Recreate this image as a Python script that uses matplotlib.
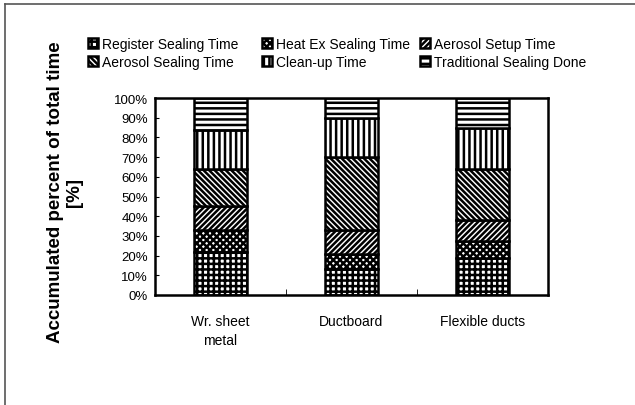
import matplotlib
matplotlib.use("Agg")
import matplotlib.pyplot as plt
from matplotlib.lines import Line2D
from matplotlib.ticker import PercentFormatter, FixedLocator

plt.rcParams['font.family'] = ['Liberation Sans', 'DejaVu Sans']
plt.rcParams['hatch.linewidth'] = 1.8

categories = ["Wr. sheet\nmetal", "Ductboard", "Flexible ducts"]

# percent of total time per phase
register_sealing = [22, 13, 19]
heat_ex_sealing = [11, 8, 8.5]
aerosol_setup = [12, 12, 10.5]
aerosol_sealing = [19, 37, 26]
clean_up = [20, 20, 21]
traditional_sealing = [16, 10, 15]

series = [
    ("Register Sealing Time", register_sealing, "+++"),
    ("Heat Ex Sealing Time", heat_ex_sealing, "xxxxx"),
    ("Aerosol Setup Time", aerosol_setup, "//////"),
    ("Aerosol Sealing Time", aerosol_sealing, "\\\\\\\\\\\\"),
    ("Clean-up Time", clean_up, "|||"),
    ("Traditional Sealing Done", traditional_sealing, "---"),
]

fig = plt.figure(figsize=(6.35, 4.06), dpi=100)
ax = fig.add_axes([0.244, 0.271, 0.619, 0.485])

x = list(range(len(categories)))
bottom = [0.0] * len(categories)
handles = {}
for name, vals, hatch in series:
    bars = ax.bar(x, vals, width=0.4, bottom=bottom, color="white",
                  edgecolor="black", hatch=hatch, linewidth=1.8, label=name)
    handles[name] = bars
    bottom = [b + v for b, v in zip(bottom, vals)]

ax.set_xlim(-0.5, 2.5)
ax.set_ylim(0, 100)
ax.yaxis.set_major_locator(FixedLocator(range(0, 101, 10)))
ax.yaxis.set_major_formatter(PercentFormatter(decimals=0))
ax.set_xticks(x)
ax.set_xticklabels(categories, fontsize=10, linespacing=1.45)
ax.set_xticks([0.5, 1.5], minor=True)
ax.tick_params(axis="x", which="major", length=0, pad=14)
ax.tick_params(axis="x", which="minor", length=4, direction="in")
ax.tick_params(axis="y", labelsize=9.5, length=3, direction="in", pad=5)
for s in ax.spines.values():
    s.set_linewidth(1.8)

# legend: three columns placed like the original
columns = [
    (88, ["Register Sealing Time", "Aerosol Sealing Time"]),
    (262, ["Heat Ex Sealing Time", "Clean-up Time"]),
    (420, ["Aerosol Setup Time", "Traditional Sealing Done"]),
]
for xpix, names in columns:
    fig.legend([handles[n] for n in names], names, loc="upper left",
               bbox_to_anchor=(xpix / 635, 1 - 38 / 406), ncol=1,
               frameon=False, fontsize=10, handlelength=0.75,
               handleheight=0.75, handletextpad=0.25, labelspacing=0.3,
               borderpad=0, borderaxespad=0)

fig.text(0.103, 0.527, "Accumulated percent of total time\n[%]", rotation=90,
         ha="center", va="center", multialignment="center",
         fontsize=13.5, fontweight="bold", linespacing=1.15)

# outer frame (top and left edge visible in the scan)
fig.add_artist(Line2D([5 / 635, 5 / 635], [0, 1 - 5 / 406],
                      transform=fig.transFigure, color="#555555", lw=1.2))
fig.add_artist(Line2D([5 / 635, 1], [1 - 5 / 406, 1 - 5 / 406],
                      transform=fig.transFigure, color="#555555", lw=1.2))

fig.savefig("out.png", dpi=100)
